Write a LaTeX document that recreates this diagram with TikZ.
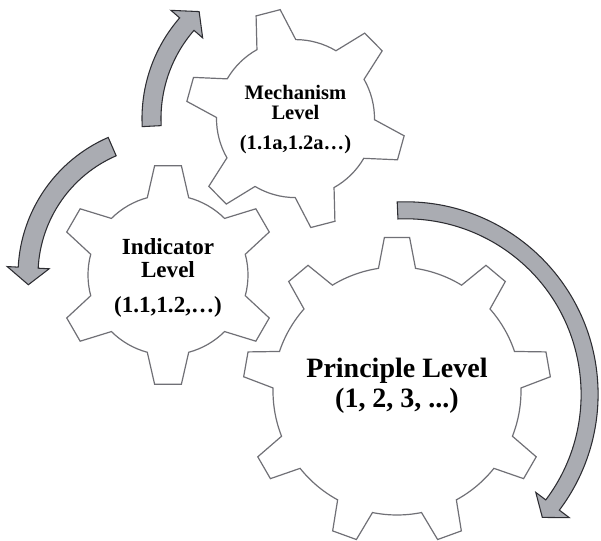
\documentclass[tikz,border=0pt]{standalone}
\usepackage{fontspec}
\setmainfont{Liberation Serif}

\definecolor{cogedge}{RGB}{112,112,118}
\definecolor{turnfill}{RGB}{170,172,178}
\definecolor{turnedge}{RGB}{45,45,50}

\tikzset{
  cogline/.style={draw=cogedge,line width=0.9pt,fill=white,line join=miter},
  turnarrow/.style={draw=turnedge,line width=0.8pt,fill=turnfill,line join=miter},
  level/.style={align=center,text=black,inner sep=0pt},
}

% cog outline: centre, teeth, phase, root radius, tip radius,
% half angle of a tooth at the root, half angle at the tip
\newcommand{\drawcog}[7]{%
  \draw[cogline,shift={(#1)}] ({#3-#6}:#4)
    \foreach \k in {1,...,#2} {
      -- ({#3+(\k-1)*360/#2-#7}:#5) -- ({#3+(\k-1)*360/#2+#7}:#5)
      -- ({#3+(\k-1)*360/#2+#6}:#4)
      arc[start angle={#3+(\k-1)*360/#2+#6},end angle={#3+\k*360/#2-#6},radius=#4]
    } -- cycle;}

% curved turning arrow: pivot, radius, tail angle, head angle, tip angle, half width
\newcommand{\cogarrow}[6]{%
  \draw[turnarrow,shift={(#1)}] ({#3}:{#2+#6})
    arc[start angle=#3,end angle=#4,radius={#2+#6}]
    -- ({#4}:{#2+21}) -- ({#5}:{#2}) -- ({#4}:{#2-21}) -- ({#4}:{#2-#6})
    arc[start angle=#4,end angle=#3,radius={#2-#6}] -- cycle;}

\begin{document}
\begin{tikzpicture}[x=0.75pt,y=0.75pt]
  \useasboundingbox (0,0) rectangle (601,-541);

  \coordinate (mech) at (295.5,-118.6);
  \coordinate (ind) at (168,-275);
  \coordinate (prin) at (397,-391);
  \coordinate (pivot) at (405.6,-394.3);

  % the three cogs
  \drawcog{ind}{6}{90}{80}{110}{15}{7}
  \drawcog{mech}{6}{44.5}{79}{110}{14.7}{6.5}
  \drawcog{prin}{9}{90}{124}{154}{8.6}{4.7}

  \node[level,font=\bfseries\fontsize{15.4}{15}\selectfont] (mechlbl)
    at ([yshift=-1]mech) {Mechanism\\Level\\[7.5pt](1.1a,1.2a…)};
  \node[level,font=\bfseries\fontsize{17.3}{17.25}\selectfont] (indlbl)
    at ([yshift=-2]ind) {Indicator\\Level\\[9pt](1.1,1.2,…)};
  \node[level,font=\bfseries\fontsize{21}{22.5}\selectfont] (prinlbl)
    at ([yshift=3.75]prin) {Principle Level\\(1, 2, 3, ...)};

  % turning arrows
  \cogarrow{mech}{144}{183}{139}{132}{9.5}
  \cogarrow{ind}{140}{113.5}{177}{184}{10}
  \cogarrow{pivot}{184}{92.5}{-37}{-42}{8.5}
\end{tikzpicture}
\end{document}
